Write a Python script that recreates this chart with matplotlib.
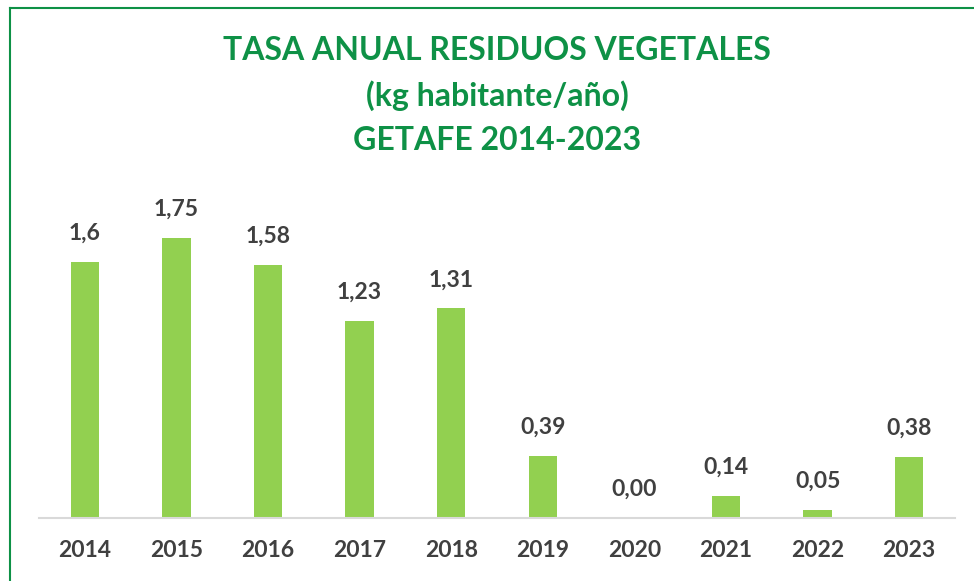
import numpy as np
import matplotlib.pyplot as plt
from matplotlib.lines import Line2D

# Tasa anual residuos vegetales, Getafe 2014-2023

years = ['2014', '2015', '2016', '2017', '2018', '2019', '2020', '2021', '2022', '2023']
values = [1.6, 1.75, 1.58, 1.23, 1.31, 0.39, 0.00, 0.14, 0.05, 0.38]
labels = ['1,6', '1,75', '1,58', '1,23', '1,31', '0,39', '0,00', '0,14', '0,05', '0,38']
title_lines = ['TASA ANUAL RESIDUOS VEGETALES', '(kg habitante/año)', 'GETAFE 2014-2023']

green = '#0E9146'
bar_color = '#92D050'
text_color = '#404040'

plt.rcParams['font.family'] = ['Lato', 'DejaVu Sans']

fig = plt.figure(figsize=(9.74, 5.81), dpi=100)
W, H = 974, 581
ax = fig.add_axes([39 / W, 1 - 518 / H, (955 - 39) / W, (518 - 198) / H])

x = np.arange(len(years))
ax.bar(x, values, width=0.31, color=bar_color)
ax.set_xlim(-0.5, len(years) - 0.5)
ax.set_ylim(0, 2.0)

for xi, v, lab in zip(x, values, labels):
    ax.annotate(lab, (xi, v), xytext=(0, 13), textcoords='offset points',
                ha='center', va='bottom', fontsize=16.5, fontweight='bold',
                color=text_color)

ax.set_xticks(x)
ax.set_xticklabels(years, fontsize=16.5, fontweight='bold', color=text_color)
ax.tick_params(axis='x', length=0, pad=16)
ax.set_yticks([])
for s in ['top', 'right', 'left']:
    ax.spines[s].set_visible(False)
ax.spines['bottom'].set_color('#D9D9D9')
ax.spines['bottom'].set_linewidth(1.5)

# title
for i, line in enumerate(title_lines):
    fig.text(497 / W, 1 - (51 + i * 45) / H, line, ha='center', va='center',
             fontsize=23, fontweight='bold', color=green)

# green frame (left and top edges visible)
fig.add_artist(Line2D([9.5 / W, 1.0], [1 - 7.5 / H, 1 - 7.5 / H],
                      transform=fig.transFigure, color=green, linewidth=1.5))
fig.add_artist(Line2D([9.5 / W, 9.5 / W], [0, 1 - 7.5 / H],
                      transform=fig.transFigure, color=green, linewidth=1.5))

fig.savefig('out.png', dpi=100)
